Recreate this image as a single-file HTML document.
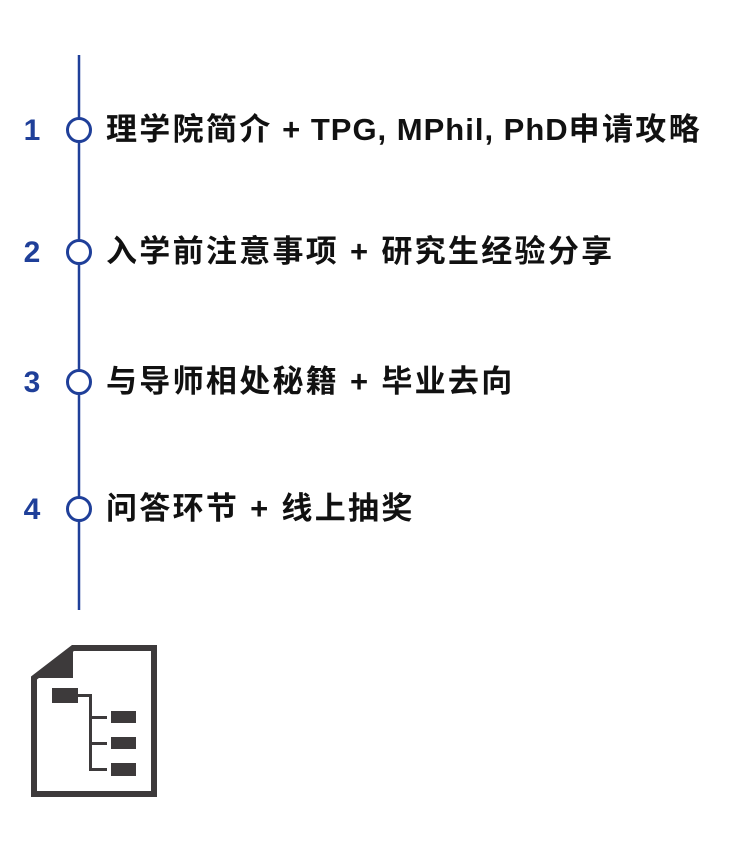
<!DOCTYPE html>
<html><head><meta charset="utf-8"><style>
body{margin:0;width:750px;height:844px;background:#fff;position:relative;overflow:hidden;font-family:"Liberation Sans","Noto Sans CJK SC",sans-serif}
.n{position:absolute;width:30px;left:17px;text-align:center;color:#1f3f99;font-weight:bold;font-size:30px;line-height:30px}
.t{position:absolute;left:106px;font-size:31px;letter-spacing:2.3px;line-height:30px;color:#111;white-space:nowrap;font-weight:bold}
.t span{letter-spacing:1px}
</style></head><body>
<svg width="750" height="844" style="position:absolute;left:0;top:0">
<line x1="79" y1="55" x2="79" y2="610" stroke="#1f3f99" stroke-width="2.5"/>
<g fill="#fff" stroke="#1f3f99" stroke-width="3">
<circle cx="79" cy="130" r="11.5"/><circle cx="79" cy="252" r="11.5"/><circle cx="79" cy="382" r="11.5"/><circle cx="79" cy="509" r="11.5"/></g>
<path d="M73 648 H154 V794 H34 V678 Z" fill="none" stroke="#3d3a3b" stroke-width="6"/>
<path d="M73 648 V678 H34 Z" fill="#3d3a3b"/>
<g fill="#3d3a3b">
<rect x="52" y="688" width="26" height="15"/>
<rect x="78" y="694" width="14" height="3"/>
<rect x="89" y="694" width="3" height="77"/>
<rect x="89" y="716" width="18" height="3"/><rect x="89" y="742" width="18" height="3"/><rect x="89" y="768" width="18" height="3"/>
<rect x="111" y="711" width="25" height="12"/><rect x="111" y="737" width="25" height="12"/><rect x="111" y="763" width="25" height="13"/>
</g></svg>
<div class="n" style="top:116px">1</div><div class="t" style="top:115px">理学院简介<span> + TPG, MPhil, PhD</span>申请攻略</div>
<div class="n" style="top:238px">2</div><div class="t" style="top:237px">入学前注意事项 + 研究生经验分享</div>
<div class="n" style="top:368px">3</div><div class="t" style="top:367px">与导师相处秘籍 + 毕业去向</div>
<div class="n" style="top:495px">4</div><div class="t" style="top:494px">问答环节 + 线上抽奖</div>
</body></html>
